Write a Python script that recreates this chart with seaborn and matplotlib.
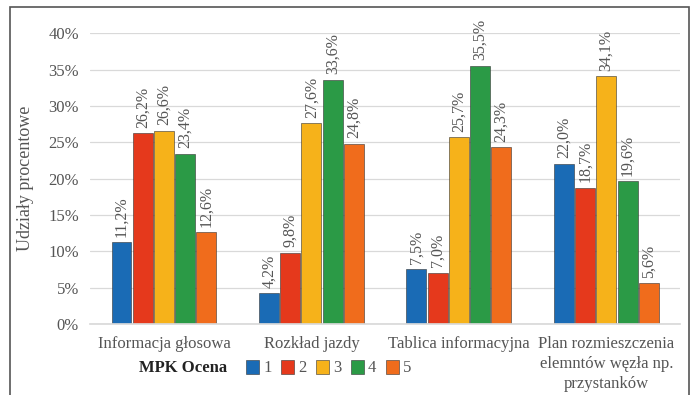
import matplotlib
matplotlib.use("Agg")
import matplotlib.pyplot as plt
import matplotlib.patches as mpatches
import seaborn as sns
import pandas as pd

categories = [
    "Informacja głosowa",
    "Rozkład jazdy",
    "Tablica informacyjna",
    "Plan rozmieszczenia\nelemntów węzła np.\nprzystanków",
]
grades = ["1", "2", "3", "4", "5"]
ocena_1 = [11.2, 4.2, 7.5, 22.0]
ocena_2 = [26.2, 9.8, 7.0, 18.7]
ocena_3 = [26.6, 27.6, 25.7, 34.1]
ocena_4 = [23.4, 33.6, 35.5, 19.6]
ocena_5 = [12.6, 24.8, 24.3, 5.6]
y_ticks = [0, 5, 10, 15, 20, 25, 30, 35, 40]

colors = ["#1a6bb5", "#e5391c", "#f6b21a", "#2b9a46", "#f06c1c"]
text_gray = "#555555"

series = [ocena_1, ocena_2, ocena_3, ocena_4, ocena_5]
rows = []
for g, vals in zip(grades, series):
    for c, v in zip(categories, vals):
        rows.append({"kategoria": c, "ocena": g, "udzial": v})
df = pd.DataFrame(rows)

sns.set_theme(style="white")
plt.rcParams["font.family"] = ["Liberation Serif", "DejaVu Serif"]

fig = plt.figure(figsize=(6.94, 3.95), dpi=100)
ax = fig.add_axes([0.13, 0.18, 0.85, 0.736])

sns.barplot(data=df, x="kategoria", y="udzial", hue="ocena", order=categories,
            hue_order=grades, palette=colors, saturation=1, width=0.72, gap=0.06,
            edgecolor="#333333", linewidth=0.4, ax=ax, legend=False)

for container in ax.containers:
    labels = [f"{v:.1f}".replace(".", ",") + "%" for v in container.datavalues]
    ax.bar_label(container, labels=labels, rotation=90, padding=4,
                 fontsize=11.5, color=text_gray, clip_on=False)

ax.set_ylim(0, 40)
ax.set_yticks(y_ticks)
ax.set_yticklabels([f"{t}%" for t in y_ticks], fontsize=12, color=text_gray)
ax.tick_params(axis="x", labelsize=12, colors=text_gray, length=0, pad=9)
for lbl in ax.get_xticklabels():
    lbl.set_linespacing(1.3)
ax.tick_params(axis="y", length=0, pad=8)
ax.set_xlabel("")
ax.set_ylabel("Udziały procentowe", fontsize=13, color=text_gray, labelpad=10)
ax.yaxis.grid(True, color="#d9d9d9", linewidth=0.9)
ax.set_axisbelow(True)
for s in ["top", "right", "left"]:
    ax.spines[s].set_visible(False)
ax.spines["bottom"].set_color("#d9d9d9")

# legend row: bold title followed by the five grade swatches
fig.text(0.2, 0.068, "MPK Ocena", fontsize=12, fontweight="bold",
         color="#222222", ha="left", va="center")
handles = [mpatches.Patch(facecolor=c, edgecolor="#333333", linewidth=0.4, label=g)
           for c, g in zip(colors, grades)]
fig.legend(handles=handles, loc="center left", bbox_to_anchor=(0.355, 0.068),
           ncol=5, frameon=False, fontsize=12, handlelength=0.75, handleheight=0.9,
           handletextpad=0.25, columnspacing=0.6, labelcolor=text_gray,
           borderaxespad=0, borderpad=0)

# outer frame of the chart
fig.patches.append(mpatches.Rectangle((0.015, -0.01), 0.978, 0.992,
                                      transform=fig.transFigure, fill=False,
                                      edgecolor="#555555", linewidth=1.2))

fig.savefig("out.png", dpi=100)
